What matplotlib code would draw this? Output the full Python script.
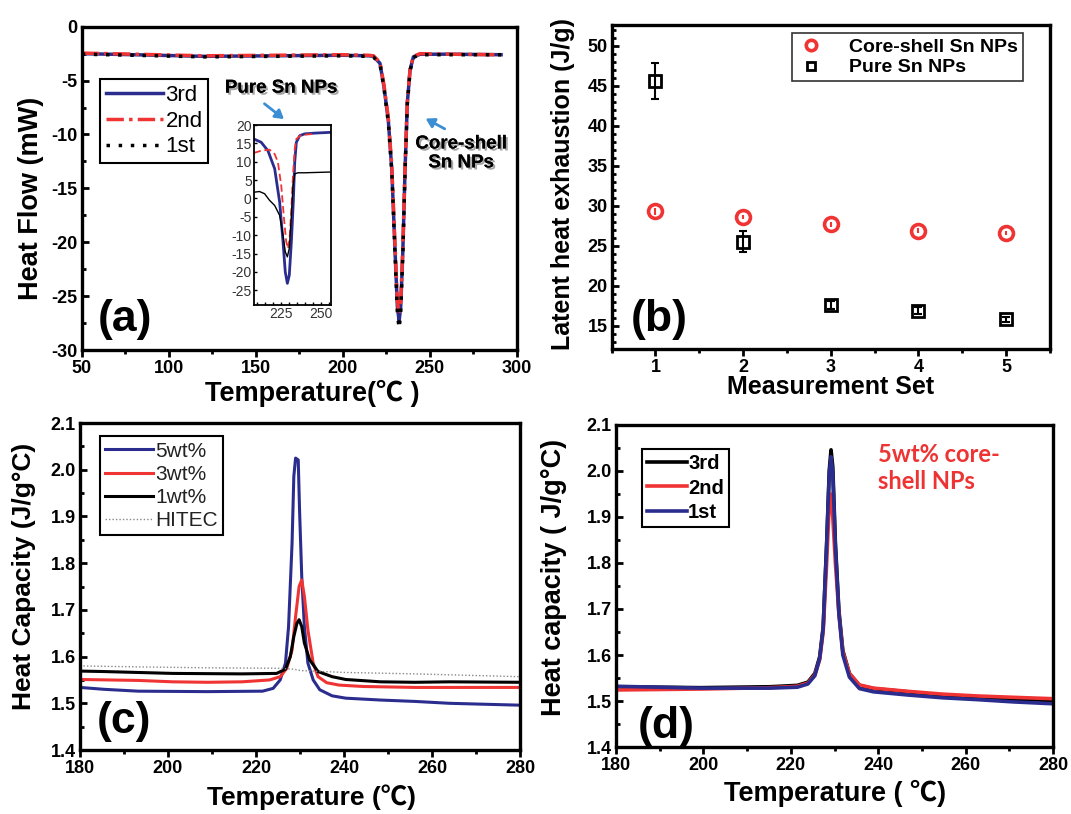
import matplotlib
matplotlib.use("Agg")
import matplotlib.pyplot as plt
import matplotlib.patheffects as pe
from matplotlib.ticker import MultipleLocator, FormatStrFormatter

plt.rcParams["font.family"] = ["Liberation Sans", "Noto Sans CJK SC", "DejaVu Sans"]
plt.rcParams["font.weight"] = "bold"
plt.rcParams["axes.unicode_minus"] = False

BLUE = "#2b2d8e"
RED = "#f03434"
ARROW = "#3b8ed3"

# (a) DSC heat flow, three cycles
dsc_T = [50, 80, 120, 160, 200, 215, 217.6, 221.4, 223.7, 226.2, 228.2, 230.1,
         231.4, 232.4, 233.3, 234.5, 235.8, 237.1, 238.7, 240.6, 244.4, 260, 291]
hf_3rd = [-2.5, -2.6, -2.75, -2.7, -2.65, -2.7, -2.75, -3.4, -5.6, -8.7, -13.3, -21.0,
          -26.0, -27.3, -26.0, -21.0, -13.3, -7.1, -4.0, -2.8, -2.56, -2.55, -2.6]
hf_2nd = [-2.45, -2.55, -2.7, -2.65, -2.6, -2.65, -2.7, -3.3, -5.4, -8.5, -13.0, -20.5,
          -25.5, -26.6, -25.6, -20.6, -13.0, -7.0, -3.9, -2.75, -2.5, -2.55, -2.6]
hf_1st = [-2.55, -2.65, -2.8, -2.75, -2.7, -2.75, -2.8, -3.5, -5.7, -8.9, -13.5, -21.3,
          -26.6, -28.0, -26.6, -21.3, -13.5, -7.2, -4.1, -2.85, -2.6, -2.6, -2.6]

# (a) inset, pure Sn NPs
ins_T_3rd = [208, 212.6, 216.8, 221.0, 224.1, 226.2, 227.6, 228.9, 230.1, 231.4,
             232.6, 233.5, 234.5, 236.6, 239.7, 246.0, 255.4]
ins_3rd = [16.2, 15.3, 13.0, 8.1, -1.0, -11.8, -20.0, -23.1, -20.9, -11.8,
           -1.0, 9.9, 15.3, 17.1, 17.6, 17.8, 18.0]
ins_T_2nd = [208, 212.6, 217.8, 221.0, 223.0, 225.1, 226.8, 228.2, 229.3, 230.3,
             231.4, 232.4, 233.5, 234.5, 237.6, 246.0]
ins_2nd = [12.4, 13.0, 13.3, 12.1, 9.9, 3.5, -5.5, -11.8, -13.6, -10.9,
           -2.8, 6.3, 13.5, 16.2, 17.3, 17.6]
ins_T_1st = [208, 211.5, 214.7, 217.8, 221.0, 224.1, 226.2, 227.6, 228.9, 230.1,
             231.4, 232.4, 233.5, 235.5, 239.7, 255.4]
ins_1st = [1.7, 1.9, 1.3, -0.5, -1.9, -4.6, -10.0, -14.5, -15.9, -13.6,
           -4.6, 3.5, 6.7, 7.0, 7.0, 7.2]

# (b) latent heat per measurement set
sets = [1, 2, 3, 4, 5]
core_shell = [29.3, 28.6, 27.7, 26.9, 26.6]
core_shell_err = [0.4, 0.3, 0.3, 0.3, 0.3]
pure = [45.6, 25.5, 17.6, 16.9, 15.8]
pure_err = [2.3, 1.3, 0.5, 0.4, 0.3]

# (c) heat capacity vs loading
c5_T = [180, 185.4, 193.2, 209.0, 221.5, 223.9, 225.5, 226.7, 227.4, 228.2, 228.6, 229.0,
        229.6, 229.9, 230.4, 231.0, 231.8, 233.0, 234.5, 237.3, 240.4, 248.3, 256.2,
        264.0, 271.9, 280]
c5 = [1.534, 1.530, 1.526, 1.525, 1.526, 1.532, 1.550, 1.586, 1.664, 1.843, 1.986, 2.025,
      2.021, 1.914, 1.771, 1.664, 1.586, 1.550, 1.529, 1.516, 1.511, 1.507, 1.504,
      1.500, 1.498, 1.496]
c3_T = [180, 193.2, 201.1, 209.0, 216.8, 223.1, 225.5, 227.0, 228.2, 229.0, 229.8, 230.4,
        231.0, 231.8, 233.0, 234.1, 236.1, 238.9, 244.4, 256.2, 280]
c3 = [1.551, 1.549, 1.546, 1.545, 1.546, 1.550, 1.557, 1.575, 1.614, 1.686, 1.750, 1.764,
      1.729, 1.657, 1.586, 1.557, 1.544, 1.539, 1.536, 1.534, 1.534]
c1_T = [180, 185.4, 201.1, 216.8, 224.7, 226.7, 227.8, 228.6, 229.3, 229.8, 230.4, 231.0,
        232.2, 234.1, 237.3, 240.4, 248.3, 256.2, 264.0, 280]
c1 = [1.569, 1.568, 1.564, 1.563, 1.564, 1.573, 1.600, 1.643, 1.671, 1.679, 1.664, 1.629,
      1.593, 1.568, 1.557, 1.551, 1.546, 1.545, 1.546, 1.545]
hitec_T = [180, 193.2, 209.0, 224.7, 228.6, 230.2, 240.4, 256.2, 271.9, 280]
hitec = [1.580, 1.578, 1.576, 1.575, 1.573, 1.570, 1.566, 1.563, 1.559, 1.557]

# (d) 5wt% core-shell, three cycles
d_T = [180, 199.4, 215.2, 221.5, 223.9, 225.5, 226.6, 227.4, 228.2, 228.8, 229.2, 229.6,
       230.2, 231.0, 231.9, 233.4, 235.7, 238.9, 246.8, 254.7, 262.6, 271.0, 280]
d_3rd = [1.531, 1.529, 1.531, 1.534, 1.541, 1.560, 1.596, 1.661, 1.843, 2.002, 2.046, 2.009,
         1.843, 1.697, 1.610, 1.560, 1.534, 1.527, 1.520, 1.512, 1.507, 1.504, 1.501]
d_2nd = [1.524, 1.526, 1.529, 1.532, 1.539, 1.557, 1.590, 1.650, 1.800, 1.930, 1.950, 1.900,
         1.800, 1.690, 1.607, 1.560, 1.535, 1.528, 1.521, 1.515, 1.511, 1.508, 1.505]
d_1st = [1.532, 1.528, 1.528, 1.530, 1.537, 1.555, 1.592, 1.657, 1.840, 1.995, 2.031, 1.995,
         1.835, 1.690, 1.600, 1.552, 1.527, 1.520, 1.513, 1.507, 1.503, 1.498, 1.494]


def style(ax, xmaj, xmin, ymaj, ymin):
    for s in ax.spines.values():
        s.set_linewidth(2.4)
    ax.xaxis.set_major_locator(MultipleLocator(xmaj))
    ax.xaxis.set_minor_locator(MultipleLocator(xmin))
    ax.yaxis.set_major_locator(MultipleLocator(ymaj))
    ax.yaxis.set_minor_locator(MultipleLocator(ymin))
    ax.tick_params(axis="x", which="both", direction="out", width=2, labelsize=13, pad=2)
    ax.tick_params(axis="y", which="both", direction="in", width=2, labelsize=13, pad=3)
    ax.tick_params(which="major", length=5)
    ax.tick_params(which="minor", length=3)
    ax.tick_params(top=False, right=False)


def labels(ax, xl, yl, xpos, ypos, size=19):
    ax.set_xlabel(xl, fontsize=size, fontweight="bold")
    ax.set_ylabel(yl, fontsize=size, fontweight="bold")
    ax.xaxis.label.set_va("center")
    ax.yaxis.label.set_va("center")
    ax.xaxis.set_label_coords(*xpos)
    ax.yaxis.set_label_coords(*ypos)


def box_legend(ax, anchor, size, hl, pad=0.1, spacing=0.2, lw=1.5, **kw):
    leg = ax.legend(loc="upper left", bbox_to_anchor=anchor, borderaxespad=0,
                    fontsize=size, handlelength=hl, handletextpad=pad,
                    labelspacing=spacing, borderpad=0.25, fancybox=False,
                    framealpha=1, edgecolor="black", **kw)
    leg.get_frame().set_linewidth(lw)
    return leg


fig = plt.figure(figsize=(10.71, 8.14), dpi=100)

# ---- (a)
ax = fig.add_axes([0.0763, 0.570, 0.4062, 0.3972])
ax.plot(dsc_T, hf_3rd, color=BLUE, lw=2.5, label="3rd")
ax.plot(dsc_T, hf_2nd, color=RED, lw=2.5, ls=(0, (5, 1.5, 1, 1.5)), label="2nd")
ax.plot(dsc_T, hf_1st, color="black", lw=2.5, ls=(0, (1, 2.5)), label="1st")
ax.set_xlim(50, 300)
ax.set_ylim(-30, 0)
style(ax, 50, 25, 5, 2.5)
labels(ax, "Temperature(\u2103 )", "Heat Flow (mW)", (0.53, -0.134), (-0.117, 0.47),
       size=19.5)
leg = box_legend(ax, (0.042, 0.838), 16, 2.6, pad=0.1, spacing=0.22)
for t in leg.get_texts():
    t.set_fontweight("normal")
ax.text(0.10, 0.095, "(a)", transform=ax.transAxes, fontsize=32, fontweight="bold",
        ha="center", va="center")
shadow = [pe.withSimplePatchShadow(offset=(1.5, -1.5), alpha=0.35), pe.Normal()]
ax.text(0.458, 0.81, "Pure Sn NPs", transform=ax.transAxes, fontsize=13.5,
        fontweight="bold", ha="center", va="center", path_effects=shadow)
ax.text(0.872, 0.608, "Core-shell\nSn NPs", transform=ax.transAxes, fontsize=13.5,
        fontweight="bold", ha="center", va="center", linespacing=1.15,
        path_effects=shadow)
ax.annotate("", xy=(0.470, 0.709), xytext=(0.415, 0.767), xycoords="axes fraction",
            arrowprops=dict(arrowstyle="-|>,head_length=0.5,head_width=0.3",
                            color=ARROW, lw=2))
ax.annotate("", xy=(0.785, 0.720), xytext=(0.840, 0.680), xycoords="axes fraction",
            arrowprops=dict(arrowstyle="-|>,head_length=0.5,head_width=0.3",
                            color=ARROW, lw=2))

ins = fig.add_axes([0.237, 0.6253, 0.0719, 0.2211])
ins.plot(ins_T_3rd, ins_3rd, color=BLUE, lw=2)
ins.plot(ins_T_2nd, ins_2nd, color=RED, lw=1.3, ls=(0, (4, 2)))
ins.plot(ins_T_1st, ins_1st, color="black", lw=1)
ins.set_xlim(208, 256)
ins.set_ylim(-29, 20)
ins.xaxis.set_major_locator(MultipleLocator(25))
ins.xaxis.set_minor_locator(MultipleLocator(5))
ins.yaxis.set_major_locator(MultipleLocator(5))
for s in ins.spines.values():
    s.set_linewidth(1.3)
ins.tick_params(which="both", direction="in", top=False, right=False, labelsize=10,
                length=2.5, width=1, pad=1.5, labelcolor="#333333")
for t in ins.get_xticklabels() + ins.get_yticklabels():
    t.set_fontweight("normal")

# ---- (b)
ax = fig.add_axes([0.5711, 0.5713, 0.4092, 0.398])
ax.errorbar(sets, core_shell, yerr=core_shell_err, fmt="none", ecolor=RED,
            elinewidth=1.5, capsize=0)
ax.errorbar(sets, pure, yerr=pure_err, fmt="none", ecolor="black",
            elinewidth=1.5, capsize=3, capthick=1.5)
ax.plot(sets, core_shell, "o", ms=10, mfc="none", mec=RED, mew=2.6,
        label="Core-shell Sn NPs")
ax.plot(sets, pure, "s", ms=8, mfc="none", mec="black", mew=2, label="Pure Sn NPs")
ax.set_xlim(0.5, 5.5)
ax.set_ylim(12.1, 52.6)
style(ax, 1, 0.5, 5, 1)
labels(ax, "Measurement Set", "Latent heat exhaustion (J/g)", (0.5, -0.118),
       (-0.11, 0.508), size=18)
leg = box_legend(ax, (0.411, 0.974), 14, 1.5, pad=1.2, spacing=0.15, lw=1.2,
                 markerscale=0.75)
leg.get_frame().set_edgecolor("#333333")
ax.text(0.109, 0.092, "(b)", transform=ax.transAxes, fontsize=32, fontweight="bold",
        ha="center", va="center")

# ---- (c)
ax = fig.add_axes([0.0747, 0.0786, 0.4108, 0.4017])
ax.plot(c5_T, c5, color=BLUE, lw=2.2, label="5wt%")
ax.plot(c3_T, c3, color=RED, lw=2.2, label="3wt%")
ax.plot(c1_T, c1, color="black", lw=2.2, label="1wt%")
ax.plot(hitec_T, hitec, color="#888888", lw=1, ls=(0, (1, 1.5)), label="HITEC")
ax.set_xlim(180, 280)
ax.set_ylim(1.4, 2.1)
style(ax, 20, 10, 0.1, 0.05)
ax.yaxis.set_major_formatter(FormatStrFormatter("%.1f"))
labels(ax, "Temperature (\u2103)", "Heat Capacity (J/g\u00b0C)", (0.526, -0.143),
       (-0.127, 0.53), size=19)
leg = box_legend(ax, (0.046, 0.959), 15, 2.3, pad=0.1, spacing=0.2)
for t in leg.get_texts():
    t.set_fontweight("normal")
    t.set_color("#222222")
ax.text(0.10, 0.087, "(c)", transform=ax.transAxes, fontsize=32, fontweight="bold",
        ha="center", va="center")

# ---- (d)
ax = fig.add_axes([0.5752, 0.0823, 0.408, 0.3956])
ax.plot(d_T, d_3rd, color="black", lw=2.6, label="3rd")
ax.plot(d_T, d_2nd, color=RED, lw=2.6, label="2nd")
ax.plot(d_T, d_1st, color=BLUE, lw=2.6, label="1st")
ax.set_xlim(180, 280)
ax.set_ylim(1.4, 2.1)
style(ax, 20, 10, 0.1, 0.05)
ax.yaxis.set_major_formatter(FormatStrFormatter("%.1f"))
labels(ax, "Temperature ( \u2103)", "Heat capacity ( J/g\u00b0C)", (0.502, -0.145),
       (-0.142, 0.528), size=19.5)
box_legend(ax, (0.059, 0.924), 14.5, 2.0, pad=0.05, spacing=0.25)
ax.text(0.60, 0.945, "5wt% core-\nshell NPs", transform=ax.transAxes, fontsize=17,
        fontweight="bold", color="#ee3333", ha="left", va="top", linespacing=1.2,
        family=["Lato", "DejaVu Sans"])
ax.text(0.115, 0.065, "(d)", transform=ax.transAxes, fontsize=32, fontweight="bold",
        ha="center", va="center")

fig.savefig("out.png", dpi=100)
